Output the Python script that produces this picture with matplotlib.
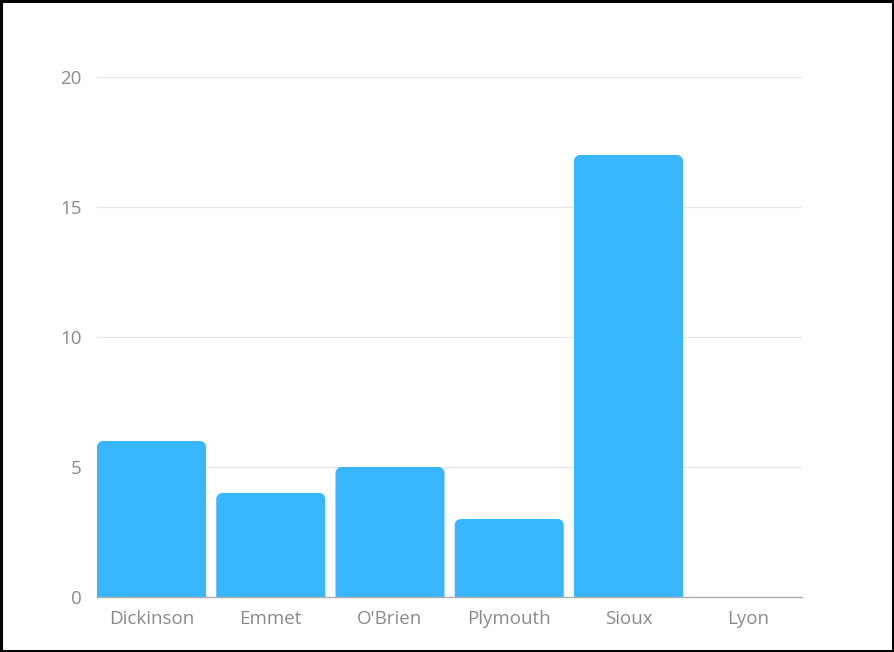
import matplotlib
matplotlib.use("Agg")
import matplotlib.pyplot as plt
from matplotlib.path import Path
from matplotlib.patches import PathPatch, Rectangle

categories = ["Dickinson", "Emmet", "O'Brien", "Plymouth", "Sioux", "Lyon"]
values = [6, 4, 5, 3, 17, 0]
yticks = [0, 5, 10, 15, 20]

W, H = 894, 652
fig = plt.figure(figsize=(W / 100, H / 100), dpi=100)
L, R, B, T = 97, 802, 597, 77
ax = fig.add_axes([L / W, 1 - B / H, (R - L) / W, (B - T) / H])

xlim = (-0.457, 5.455)
ylim = (0, 20)
ax.set_xlim(*xlim)
ax.set_ylim(*ylim)

bar_w = 0.914
color = "#38B6FF"
px_x = (R - L) / (xlim[1] - xlim[0])
px_y = (B - T) / (ylim[1] - ylim[0])
rpx = 6
rx, ry = rpx / px_x, rpx / px_y

bars = ax.bar(range(len(categories)), values, width=bar_w, color=color, zorder=3)
for b in bars:
    x0, w, h = b.get_x(), b.get_width(), b.get_height()
    b.set_visible(False)
    if h <= 0:
        continue
    x1 = x0 + w
    k = 0.5523
    verts = [
        (x0, 0), (x0, h - ry),
        (x0, h - ry + k * ry), (x0 + rx - k * rx, h), (x0 + rx, h),
        (x1 - rx, h),
        (x1 - rx + k * rx, h), (x1, h - ry + k * ry), (x1, h - ry),
        (x1, 0), (x0, 0),
    ]
    codes = [Path.MOVETO, Path.LINETO,
             Path.CURVE4, Path.CURVE4, Path.CURVE4,
             Path.LINETO,
             Path.CURVE4, Path.CURVE4, Path.CURVE4,
             Path.LINETO, Path.CLOSEPOLY]
    ax.add_patch(PathPatch(Path(verts, codes), facecolor=color, edgecolor="none", zorder=3))

ax.set_yticks(yticks)
ax.set_xticks(range(len(categories)))
ax.set_xticklabels(categories)
for s in ["left", "right", "top"]:
    ax.spines[s].set_visible(False)
ax.spines["bottom"].set_color("#b0b0b0")
ax.spines["bottom"].set_linewidth(1.0)
ax.spines["bottom"].set_zorder(4)
ax.grid(axis="y", color="#e6e6e6", linewidth=1.0, zorder=0)
ax.tick_params(axis="both", length=0, labelsize=13.5, labelcolor="#8a8a8a")
ax.tick_params(axis="y", pad=11)
ax.tick_params(axis="x", pad=9)
for lab in ax.get_xticklabels() + ax.get_yticklabels():
    lab.set_fontfamily("Open Sans")

fig.patches.append(Rectangle((0.0015, 0.002), 0.997, 0.996, transform=fig.transFigure,
                             fill=False, edgecolor="black", linewidth=2.2))

fig.savefig("out.png", dpi=100)
